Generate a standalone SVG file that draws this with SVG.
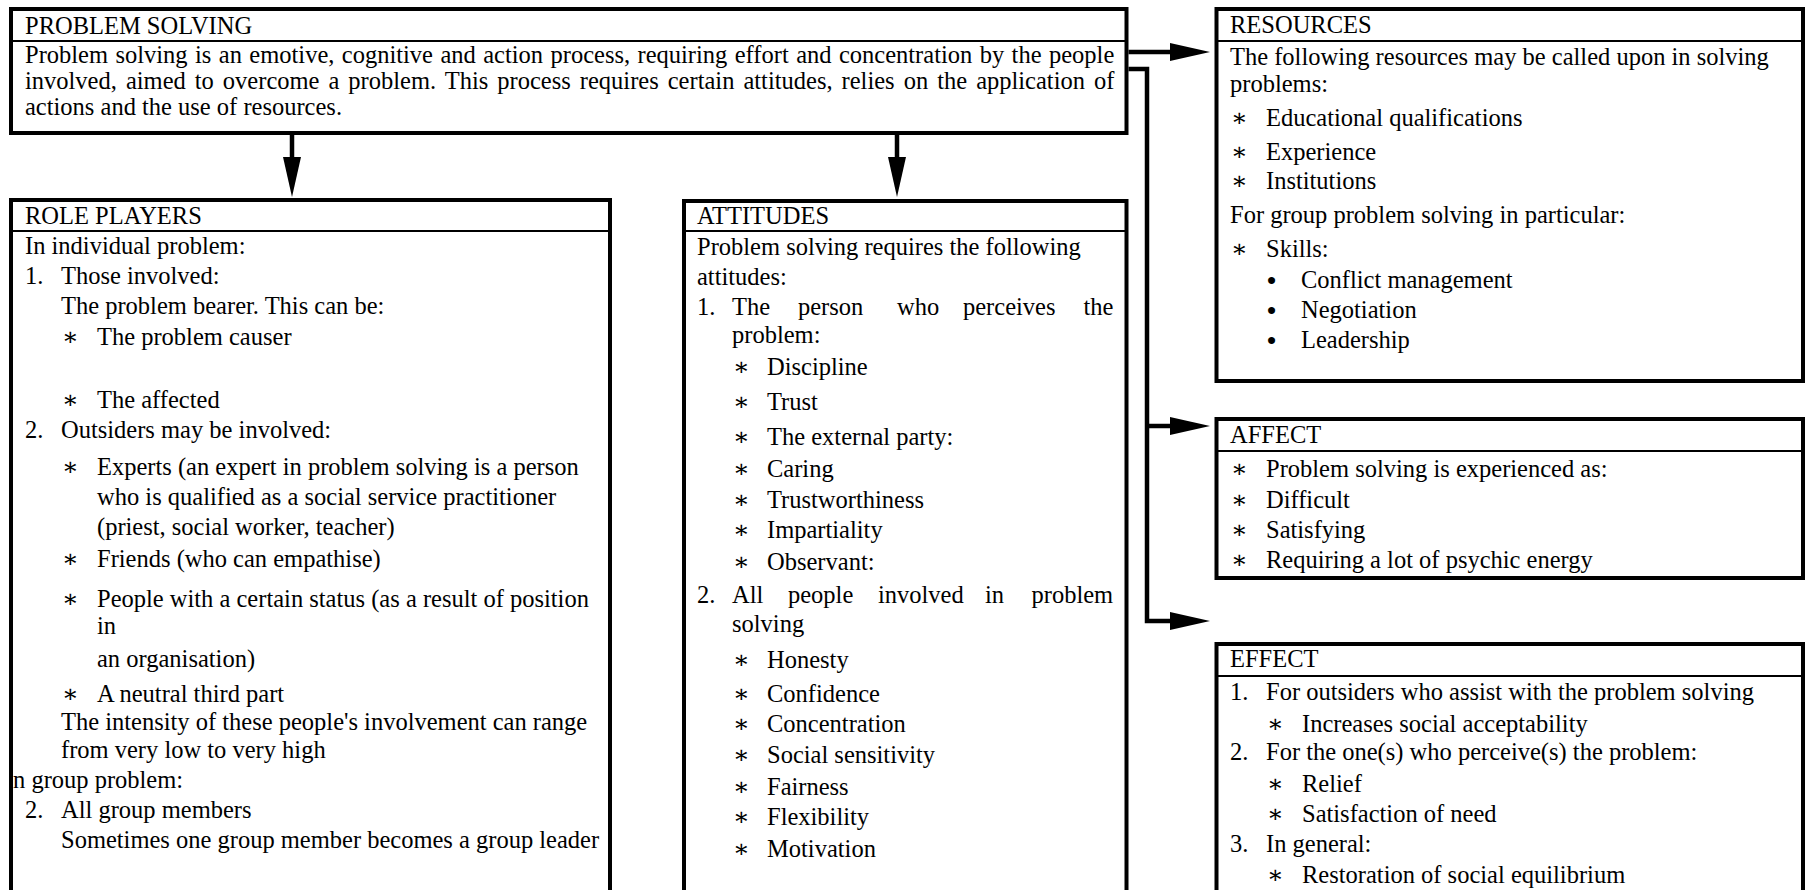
<svg xmlns="http://www.w3.org/2000/svg" width="1809" height="890" viewBox="0 0 1809 890">
  <style>
    .box { fill: #fff; stroke: #000; stroke-width: 4; }
    .rule { stroke: #000; stroke-width: 2; }
    .conn { fill: none; stroke: #000; stroke-width: 4.5; stroke-linejoin: miter; }
    text { font-family: "Liberation Serif", "Times New Roman", "DejaVu Serif", serif; font-size: 24.5px; fill: #000; }
    .st { font-family: "Liberation Serif", "DejaVu Serif", serif; }
    .dot { font-size: 26px; font-weight: bold; }
  </style>
  <defs>
    <marker id="arrow" markerUnits="userSpaceOnUse" viewBox="0 0 40 18" markerWidth="40" markerHeight="18" refX="0" refY="9" orient="auto">
      <path d="M0,0 L40,9 L0,18 Z" fill="#000"/>
    </marker>
  </defs>
  <rect width="1809" height="890" fill="#fff"/>

  <!-- top box -->
  <g id="problem-solving">
    <rect class="box" x="11" y="9" width="1115.5" height="124"/>
    <line class="rule" x1="11" y1="41" x2="1126.5" y2="41"/>
    <text x="25" y="34">PROBLEM SOLVING</text>
    <text x="25" y="63" word-spacing="1.3">Problem solving is an emotive, cognitive and action process, requiring effort and concentration by the people</text>
    <text x="25" y="89" word-spacing="2.9">involved, aimed to overcome a problem. This process requires certain attitudes, relies on the application of</text>
    <text x="25" y="115">actions and the use of resources.</text>
  </g>

  <!-- role players -->
  <g id="role-players">
    <rect class="box" x="11" y="200" width="599" height="720"/>
    <line class="rule" x1="11" y1="231" x2="610" y2="231"/>
    <text x="25" y="224">ROLE PLAYERS</text>
    <text x="25" y="254">In individual problem:</text>
    <text x="25" y="284">1.</text><text x="61" y="284">Those involved:</text>
    <text x="61" y="314">The problem bearer. This can be:</text>
    <text class="st" x="62" y="345">∗</text><text x="97" y="345">The problem causer</text>
    <text class="st" x="62" y="408">∗</text><text x="97" y="408">The affected</text>
    <text x="25" y="438">2.</text><text x="61" y="438">Outsiders may be involved:</text>
    <text class="st" x="62" y="475">∗</text><text x="97" y="475">Experts (an expert in problem solving is a person</text>
    <text x="97" y="505">who is qualified as a social service practitioner</text>
    <text x="97" y="535">(priest, social worker, teacher)</text>
    <text class="st" x="62" y="567">∗</text><text x="97" y="567">Friends (who can empathise)</text>
    <text class="st" x="62" y="607">∗</text><text x="97" y="607">People with a certain status (as a result of position</text>
    <text x="97" y="634">in</text>
    <text x="97" y="667">an organisation)</text>
    <text class="st" x="62" y="702">∗</text><text x="97" y="702">A neutral third part</text>
    <text x="61" y="730">The intensity of these people's involvement can range</text>
    <text x="61" y="758">from very low to very high</text>
    <text x="13" y="788">n group problem:</text>
    <text x="25" y="818">2.</text><text x="61" y="818">All group members</text>
    <text x="61" y="848">Sometimes one group member becomes a group leader</text>
  </g>

  <!-- attitudes -->
  <g id="attitudes">
    <rect class="box" x="684" y="201" width="442.5" height="720"/>
    <line class="rule" x1="684" y1="231" x2="1126.5" y2="231"/>
    <text x="697" y="224">ATTITUDES</text>
    <text x="697" y="255">Problem solving requires the following</text>
    <text x="697" y="285">attitudes:</text>
    <text x="697" y="315">1.</text>
    <text y="315"><tspan x="732">The</tspan><tspan x="798">person</tspan><tspan x="897">who</tspan><tspan x="963">perceives</tspan><tspan x="1083.5">the</tspan></text>
    <text x="732" y="343">problem:</text>
    <text class="st" x="733" y="375">∗</text><text x="767" y="375">Discipline</text>
    <text class="st" x="733" y="410">∗</text><text x="767" y="410">Trust</text>
    <text class="st" x="733" y="445">∗</text><text x="767" y="445">The external party:</text>
    <text class="st" x="733" y="477">∗</text><text x="767" y="477">Caring</text>
    <text class="st" x="733" y="508">∗</text><text x="767" y="508">Trustworthiness</text>
    <text class="st" x="733" y="538">∗</text><text x="767" y="538">Impartiality</text>
    <text class="st" x="733" y="570">∗</text><text x="767" y="570">Observant:</text>
    <text x="697" y="603">2.</text>
    <text y="603"><tspan x="732">All</tspan><tspan x="788">people</tspan><tspan x="878">involved</tspan><tspan x="985">in</tspan><tspan x="1031.5">problem</tspan></text>
    <text x="732" y="632">solving</text>
    <text class="st" x="733" y="668">∗</text><text x="767" y="668">Honesty</text>
    <text class="st" x="733" y="702">∗</text><text x="767" y="702">Confidence</text>
    <text class="st" x="733" y="732">∗</text><text x="767" y="732">Concentration</text>
    <text class="st" x="733" y="763">∗</text><text x="767" y="763">Social sensitivity</text>
    <text class="st" x="733" y="795">∗</text><text x="767" y="795">Fairness</text>
    <text class="st" x="733" y="825">∗</text><text x="767" y="825">Flexibility</text>
    <text class="st" x="733" y="857">∗</text><text x="767" y="857">Motivation</text>
  </g>

  <!-- resources -->
  <g id="resources">
    <rect class="box" x="1216.5" y="9" width="586.5" height="372"/>
    <line class="rule" x1="1216.5" y1="41" x2="1803" y2="41"/>
    <text x="1230" y="33">RESOURCES</text>
    <text x="1230" y="65">The following resources may be called upon in solving</text>
    <text x="1230" y="92">problems:</text>
    <text class="st" x="1231" y="126">∗</text><text x="1266" y="126">Educational qualifications</text>
    <text class="st" x="1231" y="160">∗</text><text x="1266" y="160">Experience</text>
    <text class="st" x="1231" y="189">∗</text><text x="1266" y="189">Institutions</text>
    <text x="1230" y="223">For group problem solving in particular:</text>
    <text class="st" x="1231" y="257">∗</text><text x="1266" y="257">Skills:</text>
    <text class="dot" x="1267" y="289">•</text><text x="1301" y="288">Conflict management</text>
    <text class="dot" x="1267" y="319">•</text><text x="1301" y="318">Negotiation</text>
    <text class="dot" x="1267" y="349">•</text><text x="1301" y="348">Leadership</text>
  </g>

  <!-- affect -->
  <g id="affect">
    <rect class="box" x="1216.5" y="419" width="586.5" height="159"/>
    <line class="rule" x1="1216.5" y1="451" x2="1803" y2="451"/>
    <text x="1230" y="443">AFFECT</text>
    <text class="st" x="1231" y="477">∗</text><text x="1266" y="477">Problem solving is experienced as:</text>
    <text class="st" x="1231" y="508">∗</text><text x="1266" y="508">Difficult</text>
    <text class="st" x="1231" y="538">∗</text><text x="1266" y="538">Satisfying</text>
    <text class="st" x="1231" y="568">∗</text><text x="1266" y="568">Requiring a lot of psychic energy</text>
  </g>

  <!-- effect -->
  <g id="effect">
    <rect class="box" x="1216.5" y="644" width="586.5" height="280"/>
    <line class="rule" x1="1216.5" y1="676" x2="1803" y2="676"/>
    <text x="1230" y="667">EFFECT</text>
    <text x="1230" y="700">1.</text><text x="1266" y="700">For outsiders who assist with the problem solving</text>
    <text class="st" x="1267" y="732">∗</text><text x="1302" y="732">Increases social acceptability</text>
    <text x="1230" y="760">2.</text><text x="1266" y="760">For the one(s) who perceive(s) the problem:</text>
    <text class="st" x="1267" y="792">∗</text><text x="1302" y="792">Relief</text>
    <text class="st" x="1267" y="822">∗</text><text x="1302" y="822">Satisfaction of need</text>
    <text x="1230" y="852">3.</text><text x="1266" y="852">In general:</text>
    <text class="st" x="1267" y="883">∗</text><text x="1302" y="883">Restoration of social equilibrium</text>
  </g>

  <!-- connectors -->
  <g id="connectors" class="conn">
    <path d="M1128.5,52 H1170" marker-end="url(#arrow)"/>
    <path d="M1128.5,69 H1147 V621 H1170" marker-end="url(#arrow)"/>
    <path d="M1147,426 H1170" marker-end="url(#arrow)"/>
    <path d="M292,135 V157" marker-end="url(#arrow)"/>
    <path d="M897,135 V157" marker-end="url(#arrow)"/>
  </g>
</svg>
